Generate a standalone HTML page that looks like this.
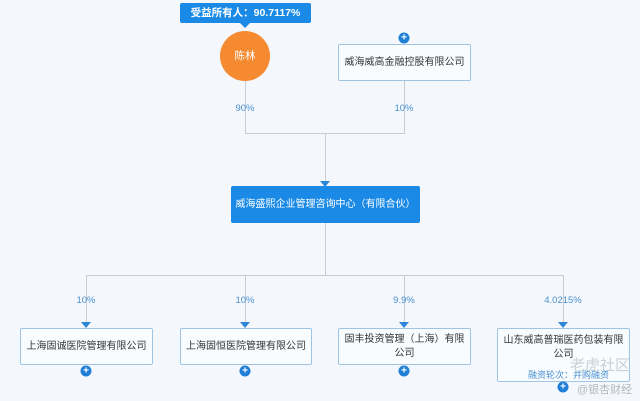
<!DOCTYPE html>
<html><head><meta charset="utf-8"><style>
body{margin:0;width:640px;height:401px;background:#f4f7fb;font-family:"Liberation Sans","Noto Sans CJK SC",sans-serif;position:relative;overflow:hidden}
.a{position:absolute;white-space:nowrap}
.box{position:absolute;background:#f9fcff;border:1px solid #9fc4e4;border-radius:2px;box-sizing:border-box;display:flex;align-items:center;justify-content:center;text-align:center;font-size:10px;color:#333;line-height:14px;white-space:nowrap}
.pct{position:absolute;font-size:9.5px;color:#4a90d0;transform:translateX(-50%)}
.plus{position:absolute;width:11px;height:11px;border-radius:50%;background:#1f7fd6;color:#fff;font-size:10px;line-height:11px;text-align:center;font-weight:bold;transform:translate(-50%,-50%)}
.ln{position:absolute;background:#c8ccd2}
.tri{position:absolute;width:0;height:0;border-left:5px solid transparent;border-right:5px solid transparent;border-top:6px solid #2c86d8;transform:translateX(-50%)}
</style></head><body>
<div class="a" style="left:180px;top:3px;width:131px;height:20px;background:#1a8ae6;border-radius:2px;color:#fff;font-size:10.5px;line-height:20px;text-align:center;font-weight:bold">受益所有人：90.7117%</div>
<div class="a" style="left:240px;top:23px;border-left:5px solid transparent;border-right:5px solid transparent;border-top:5px solid #1a8ae6"></div>
<div class="a" style="left:220px;top:31px;width:50px;height:50px;border-radius:50%;background:#f58a30;color:#fff;font-size:10.5px;line-height:50px;text-align:center">陈林</div>
<div class="box" style="left:338px;top:44px;width:133px;height:37px">威海威高金融控股有限公司</div>
<div class="plus" style="left:404px;top:38px">+</div>
<div class="ln" style="left:245px;top:81px;width:1px;height:52px"></div>
<div class="ln" style="left:404px;top:81px;width:1px;height:52px"></div>
<div class="ln" style="left:245px;top:133px;width:160px;height:1px"></div>
<div class="ln" style="left:325px;top:133px;width:1px;height:52px"></div>
<div class="pct" style="left:245px;top:103px">90%</div>
<div class="pct" style="left:404px;top:103px">10%</div>
<div class="tri" style="left:325px;top:181px"></div>
<div class="a" style="left:231px;top:186px;width:189px;height:37px;background:#1a8ae6;border-radius:2px;color:#fff;font-size:10px;line-height:37px;text-align:center">威海盛熙企业管理咨询中心（有限合伙）</div>
<div class="ln" style="left:325px;top:223px;width:1px;height:52px"></div>
<div class="ln" style="left:86px;top:275px;width:478px;height:1px"></div>
<div class="ln" style="left:86px;top:275px;width:1px;height:50px"></div>
<div class="ln" style="left:245px;top:275px;width:1px;height:50px"></div>
<div class="ln" style="left:404px;top:275px;width:1px;height:50px"></div>
<div class="ln" style="left:563px;top:275px;width:1px;height:50px"></div>
<div class="pct" style="left:86px;top:295px">10%</div>
<div class="pct" style="left:245px;top:295px">10%</div>
<div class="pct" style="left:404px;top:295px">9.9%</div>
<div class="pct" style="left:563px;top:295px">4.0215%</div>
<div class="tri" style="left:86px;top:322px"></div>
<div class="tri" style="left:245px;top:322px"></div>
<div class="tri" style="left:404px;top:322px"></div>
<div class="tri" style="left:563px;top:322px"></div>
<div class="box" style="left:20px;top:328px;width:133px;height:37px">上海固诚医院管理有限公司</div>
<div class="box" style="left:180px;top:328px;width:132px;height:37px">上海固恒医院管理有限公司</div>
<div class="box" style="left:338px;top:328px;width:133px;height:37px">固丰投资管理（上海）有限<br>公司</div>
<div class="box" style="left:497px;top:328px;width:133px;height:54px;align-items:flex-start;padding-top:5px">山东威高普瑞医药包装有限<br>公司</div>
<div class="a" style="left:528px;top:368px;font-size:9px;color:#4a90d0">融资轮次：并购融资</div>
<div class="plus" style="left:86px;top:371px">+</div>
<div class="plus" style="left:245px;top:371px">+</div>
<div class="plus" style="left:404px;top:371px">+</div>
<div class="plus" style="left:563px;top:387px">+</div>
<div class="a" style="left:570px;top:354px;font-size:15px;color:#c8d0d8">老虎社区</div>
<div class="a" style="left:577px;top:381px;font-size:11px;color:#b0b8c0">@银杏财经</div>
</body></html>
